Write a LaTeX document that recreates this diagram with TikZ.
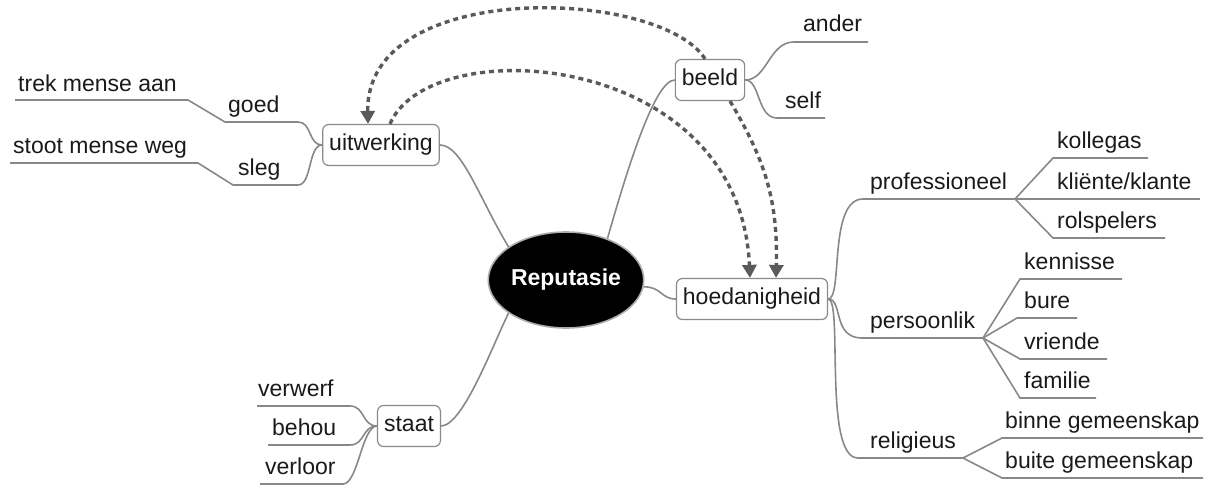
\documentclass[tikz,border=0pt]{standalone}
\usepackage{fontspec}
\setmainfont{Liberation Sans}
\usetikzlibrary{arrows.meta,shapes.geometric}
\definecolor{edgegray}{HTML}{888888}
\definecolor{boxgray}{HTML}{8A8A8A}
\definecolor{linkgray}{HTML}{5A5A5A}
\definecolor{ink}{HTML}{1A1A1A}
\begin{document}
\begin{tikzpicture}[x=1pt,y=-1pt,
  font=\fontsize{23}{27}\selectfont,
  every node/.style={text=ink},
  topic/.style={draw=boxgray, line width=1.2pt, rounded corners=6pt, fill=white,
    minimum height=41pt, inner xsep=6.5pt, inner ysep=0pt, text height=16pt, text depth=5pt},
  root/.style={ellipse, fill=black, draw=gray!65, line width=1.6pt, minimum width=139pt,
    minimum height=96pt, inner sep=0pt, text=white, font=\fontsize{23}{27}\selectfont\bfseries},
  leaf/.style={anchor=base west, inner sep=0pt},
  branch/.style={draw=edgegray, line width=1.6pt},
  link/.style={draw=linkgray, line width=3.4pt, dash pattern=on 5pt off 4pt,
    -{Triangle[length=13pt,width=14pt]}}
]
\useasboundingbox (0,0) rectangle (1207,487);

% central topic and main topics
\node[root] (rep) at (566,280) {Reputasie};
\node[topic] (uit) at (381,145) {uitwerking};
\node[topic] (beeld) at (710,80) {beeld};
\node[topic] (hoe) at (752,299) {hoedanigheid};
\node[topic] (staat) at (409,426) {staat};

% main branches
\draw[branch] (uit.east) .. controls +(22,0) and +(-30,-50) .. (rep.150);
\draw[branch] (beeld.west) .. controls +(-20,0) and +(20,-70) .. (rep.45);
\draw[branch] (rep.-5) .. controls +(18,0) and +(-15,0) .. (hoe.west);
\draw[branch] (rep.210) .. controls +(-15,30) and +(22,0) .. (staat.east);

% uitwerking
\node[leaf] (trek) at (18,92) {trek mense aan};
\node[leaf] (goed) at (228,112) {goed};
\node[leaf] (stoot) at (13,153) {stoot mense weg};
\node[leaf] (sleg) at (238,175) {sleg};
\coordinate (gA) at (298,122); \coordinate (gB) at (225,122);
\coordinate (gC) at (188,100); \coordinate (gD) at (15,100);
\coordinate (sA) at (298,185); \coordinate (sB) at (233,185);
\coordinate (sC) at (198,163); \coordinate (sD) at (10,163);
\draw[branch] (uit.west) .. controls +(-14,0) and +(14,0) .. (gA) -- (gB) -- (gC) -- (gD);
\draw[branch] (uit.west) .. controls +(-14,0) and +(14,0) .. (sA) -- (sB) -- (sC) -- (sD);

% staat
\node[leaf] (verwerf) at (258,396) {verwerf};
\node[leaf] (behou) at (272,435) {behou};
\node[leaf] (verloor) at (265,474) {verloor};
\coordinate (vwA) at (350,406); \coordinate (vwB) at (257,406);
\coordinate (bhA) at (350,445); \coordinate (bhB) at (268,445);
\coordinate (vlA) at (343,484); \coordinate (vlB) at (260,484);
\draw[branch] (staat.west) .. controls +(-15,0) and +(15,0) .. (vwA) -- (vwB);
\draw[branch] (staat.west) .. controls +(-15,0) and +(15,0) .. (bhA) -- (bhB);
\draw[branch] (staat.west) .. controls +(-15,0) and +(15,0) .. (vlA) -- (vlB);

% beeld
\node[leaf] (ander) at (803,32) {ander};
\node[leaf] (self) at (785,108) {self};
\coordinate (anA) at (794,42); \coordinate (anB) at (868,42);
\coordinate (seA) at (777,118); \coordinate (seB) at (825,118);
\draw[branch] (beeld.east) .. controls +(22,0) and +(-25,0) .. (anA) -- (anB);
\draw[branch] (beeld.east) .. controls +(15,0) and +(-20,0) .. (seA) -- (seB);

% hoedanigheid
\node[leaf] (prof) at (870,189) {professioneel};
\node[leaf] (pers) at (870,328) {persoonlik};
\node[leaf] (rel) at (870,448) {religieus};
\coordinate (prA) at (863,199); \coordinate (prB) at (1015,199);
\coordinate (peA) at (862,338); \coordinate (peB) at (983,338);
\coordinate (reA) at (858,458); \coordinate (reB) at (963,458);
\draw[branch] (hoe.east) .. controls +(15,0) and +(-35,0) .. (prA) -- (prB);
\draw[branch] (hoe.east) .. controls +(15,0) and +(-30,0) .. (peA) -- (peB);
\draw[branch] (hoe.east) .. controls +(15,0) and +(-35,0) .. (reA) -- (reB);

% professioneel
\node[leaf] (kol) at (1057,148) {kollegas};
\node[leaf] (kli) at (1057,189) {kliënte/klante};
\node[leaf] (rol) at (1057,228) {rolspelers};
\coordinate (kolA) at (1053,158); \coordinate (kolB) at (1148,158);
\coordinate (kliB) at (1200,199);
\coordinate (rolA) at (1053,238); \coordinate (rolB) at (1165,238);
\draw[branch] (prB) -- (kolA) -- (kolB);
\draw[branch] (prB) -- (kliB);
\draw[branch] (prB) -- (rolA) -- (rolB);

% persoonlik
\node[leaf] (ken) at (1024,269) {kennisse};
\node[leaf] (bure) at (1024,308) {bure};
\node[leaf] (vri) at (1024,349) {vriende};
\node[leaf] (fam) at (1024,388) {familie};
\coordinate (kenA) at (1020,279); \coordinate (kenB) at (1122,279);
\coordinate (burA) at (1017,318); \coordinate (burB) at (1077,318);
\coordinate (vriA) at (1020,359); \coordinate (vriB) at (1107,359);
\coordinate (famA) at (1020,398); \coordinate (famB) at (1096,398);
\draw[branch] (peB) -- (kenA) -- (kenB);
\draw[branch] (peB) -- (burA) -- (burB);
\draw[branch] (peB) -- (vriA) -- (vriB);
\draw[branch] (peB) -- (famA) -- (famB);

% religieus
\node[leaf] (bin) at (1005,428) {binne gemeenskap};
\node[leaf] (bui) at (1005,468) {buite gemeenskap};
\coordinate (binA) at (1002,438); \coordinate (binB) at (1203,438);
\coordinate (buiA) at (1002,478); \coordinate (buiB) at (1203,478);
\draw[branch] (reB) -- (binA) -- (binB);
\draw[branch] (reB) -- (buiA) -- (buiB);

% relationship links
\draw[link] ([xshift=-5pt]beeld.north) .. controls (660,-12) and (365,-22) .. ([xshift=-13pt]uit.north);
\draw[link] ([xshift=9pt]uit.north) .. controls (430,30) and (740,50) .. ([xshift=-2pt]hoe.north);
\draw[link] ([xshift=20pt]beeld.south) .. controls (765,160) and (778,200) .. ([xshift=24pt]hoe.north);
\end{tikzpicture}
\end{document}
